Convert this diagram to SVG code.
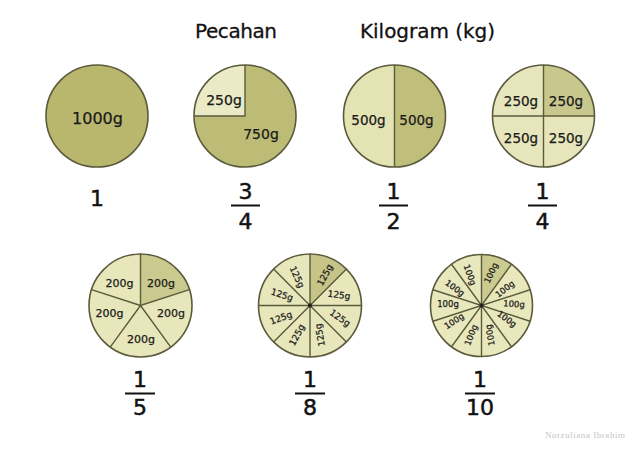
<svg xmlns="http://www.w3.org/2000/svg" width="640" height="452" viewBox="0 0 640 452">
<style>
.ln{stroke:#5b5a3c;stroke-width:1.4;fill:none}
.rim{stroke:#5b5a3c;stroke-width:1.6;fill:none}
.t{font-family:"DejaVu Sans","Liberation Sans",sans-serif;fill:#1a1a1a;stroke:#1a1a1a;stroke-width:0.25;text-anchor:middle}
.title{font-family:"DejaVu Sans","Liberation Sans",sans-serif;font-size:20px;fill:#111;stroke:#111;stroke-width:0.3}
.fr{font-family:"DejaVu Sans","Liberation Sans",sans-serif;font-size:22px;fill:#111;stroke:#111;stroke-width:0.5;text-anchor:middle}
.bar{stroke:#111;stroke-width:2}
.s9{font-size:9px;dominant-baseline:central}
.s8{font-size:8.5px;dominant-baseline:central}
</style>
<rect width="640" height="452" fill="#ffffff"/>
<text class="title" x="195" y="38" textLength="82">Pecahan</text>
<text class="title" x="360" y="38" textLength="135">Kilogram (kg)</text>

<g id="circle-1000g">
<circle cx="97" cy="116" r="51" fill="#b9b76e"/>
<circle class="rim" cx="97" cy="116" r="51"/>
<text class="t" x="97.5" y="124" font-size="16">1000g</text>
</g>

<g id="circle-3-4">
<circle cx="245" cy="116" r="51" fill="#bdbc76"/>
<path d="M245,116 L194,116 A51,51 0 0 1 245,65 Z" fill="#ebeac6"/>
<path class="ln" d="M194,116 L245,116 L245,65"/>
<circle class="rim" cx="245" cy="116" r="51"/>
<text class="t" x="224" y="105" font-size="14">250g</text>
<text class="t" x="261" y="139" font-size="14">750g</text>
</g>

<g id="circle-1-2">
<circle cx="394.5" cy="116" r="51" fill="#bfbe7a"/>
<path d="M394.5,65 A51,51 0 0 0 394.5,167 Z" fill="#e4e3b4"/>
<line class="ln" x1="394.5" y1="65" x2="394.5" y2="167"/>
<circle class="rim" cx="394.5" cy="116" r="51"/>
<text class="t" x="368.5" y="125" font-size="13.5">500g</text>
<text class="t" x="416.5" y="125" font-size="13.5">500g</text>
</g>

<g id="circle-1-4">
<circle cx="543.5" cy="116" r="51" fill="#e6e5bb"/>
<path d="M543.5,116 L543.5,65 A51,51 0 0 1 594.5,116 Z" fill="#c8c78c"/>
<line class="ln" x1="543.5" y1="65" x2="543.5" y2="167"/>
<line class="ln" x1="492.5" y1="116" x2="594.5" y2="116"/>
<circle class="rim" cx="543.5" cy="116" r="51"/>
<text class="t" x="521" y="106" font-size="13.5">250g</text>
<text class="t" x="566" y="106" font-size="13.5">250g</text>
<text class="t" x="521" y="143" font-size="13.5">250g</text>
<text class="t" x="566" y="143" font-size="13.5">250g</text>
</g>

<g id="frac-1">
<text class="fr" x="97" y="206">1</text>
</g>
<g id="frac-3-4">
<text class="fr" x="245.5" y="199">3</text>
<line class="bar" x1="231" y1="205.5" x2="260" y2="205.5"/>
<text class="fr" x="245.5" y="229">4</text>
</g>
<g id="frac-1-2">
<text class="fr" x="393.5" y="199">1</text>
<line class="bar" x1="379" y1="205.5" x2="408" y2="205.5"/>
<text class="fr" x="393.5" y="229">2</text>
</g>
<g id="frac-1-4">
<text class="fr" x="542.5" y="199">1</text>
<line class="bar" x1="528" y1="205.5" x2="557" y2="205.5"/>
<text class="fr" x="542.5" y="229">4</text>
</g>

<g id="circle-1-5">
<circle cx="140.5" cy="305.5" r="51.5" fill="#e8e7bb"/>
<path d="M140.5,305.5 L140.5,254 A51.5,51.5 0 0 1 189.48,289.59 Z" fill="#cac98e"/>
<path class="ln" d="M140.5,254 L140.5,305.5 L189.48,289.59 M140.5,305.5 L170.77,347.16 M140.5,305.5 L110.23,347.16 M140.5,305.5 L91.52,289.59"/>
<circle class="rim" cx="140.5" cy="305.5" r="51.5"/>
<text class="t" x="119.5" y="287" font-size="11">200g</text>
<text class="t" x="161" y="287" font-size="11">200g</text>
<text class="t" x="109.5" y="317" font-size="11">200g</text>
<text class="t" x="171" y="317" font-size="11">200g</text>
<text class="t" x="141" y="343" font-size="11">200g</text>
</g>

<g id="circle-1-8">
<circle cx="310" cy="305.5" r="51.5" fill="#e8e7bb"/>
<path d="M310,305.5 L310,254 A51.5,51.5 0 0 1 346.42,269.08 Z" fill="#c6c587"/>
<path class="ln" d="M310,254 L310,357 M258.5,305.5 L361.5,305.5 M273.58,269.08 L346.42,341.92 M346.42,269.08 L273.58,341.92"/>
<circle cx="310" cy="305.5" r="2" fill="#222"/>
<circle class="rim" cx="310" cy="305.5" r="51.5"/>
<text class="t s9" x="325" y="275" transform="rotate(-62 325 275)">125g</text>
<text class="t s9" x="339" y="295" transform="rotate(8 339 295)">125g</text>
<text class="t s9" x="340" y="318" transform="rotate(35 340 318)">125g</text>
<text class="t s9" x="320" y="335" transform="rotate(-100 320 335)">125g</text>
<text class="t s9" x="297" y="335" transform="rotate(-62 297 335)">125g</text>
<text class="t s9" x="281" y="318" transform="rotate(-20 281 318)">125g</text>
<text class="t s9" x="282" y="295" transform="rotate(18 282 295)">125g</text>
<text class="t s9" x="297" y="277" transform="rotate(65 297 277)">125g</text>
</g>

<g id="circle-1-10">
<circle cx="481.5" cy="305.5" r="51" fill="#e9e8bd"/>
<path d="M481.5,305.5 L481.5,254.5 A51,51 0 0 1 511.48,264.24 Z" fill="#cbca8f"/>
<path class="ln" d="M481.5,254.5 L481.5,356.5 M511.48,264.24 L451.52,346.76 M530.01,289.74 L432.99,321.26 M530.01,321.26 L432.99,289.74 M511.48,346.76 L451.52,264.24"/>
<circle cx="481.5" cy="305.5" r="2" fill="#222"/>
<circle class="rim" cx="481.5" cy="305.5" r="51"/>
<text class="t s8" x="491" y="273" transform="rotate(-66 491 273)">100g</text>
<text class="t s8" x="505" y="289" transform="rotate(-38 505 289)">100g</text>
<text class="t s8" x="514" y="304" transform="rotate(4 514 304)">100g</text>
<text class="t s8" x="507" y="319" transform="rotate(36 507 319)">100g</text>
<text class="t s8" x="490" y="335" transform="rotate(-100 490 335)">100g</text>
<text class="t s8" x="471" y="335" transform="rotate(-68 471 335)">100g</text>
<text class="t s8" x="454" y="321" transform="rotate(-34 454 321)">100g</text>
<text class="t s8" x="448" y="304" transform="rotate(0 448 304)">100g</text>
<text class="t s8" x="455" y="288" transform="rotate(36 455 288)">100g</text>
<text class="t s8" x="470" y="275" transform="rotate(70 470 275)">100g</text>
</g>

<g id="frac-1-5">
<text class="fr" x="140" y="387">1</text>
<line class="bar" x1="125" y1="393.5" x2="155" y2="393.5"/>
<text class="fr" x="140" y="415">5</text>
</g>
<g id="frac-1-8">
<text class="fr" x="310" y="387">1</text>
<line class="bar" x1="295" y1="393.5" x2="325" y2="393.5"/>
<text class="fr" x="310" y="415">8</text>
</g>
<g id="frac-1-10">
<text class="fr" x="480" y="387">1</text>
<line class="bar" x1="465" y1="393.5" x2="495" y2="393.5"/>
<text class="fr" x="480" y="415">10</text>
</g>

<text x="545" y="438" font-family="'Liberation Serif',serif" font-size="9" fill="#c4c4c4" textLength="80">Norzuliana Ibrahim</text>
</svg>
